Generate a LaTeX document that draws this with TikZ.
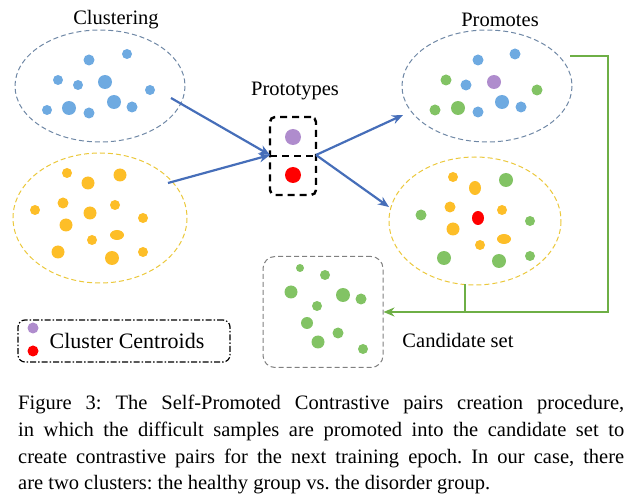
\documentclass[tikz,border=0pt]{standalone}
\usepackage{fontspec}
\setmainfont{Liberation Serif}
\usetikzlibrary{arrows.meta}
\definecolor{cb}{RGB}{110,170,225}
\definecolor{cy}{RGB}{253,190,40}
\definecolor{cg}{RGB}{130,195,100}
\definecolor{cp}{RGB}{175,140,205}
\definecolor{ar}{RGB}{70,110,185}
\definecolor{gl}{RGB}{110,175,70}
\definecolor{eb}{RGB}{110,135,165}
\definecolor{ey}{RGB}{235,200,60}
\begin{document}
\frenchspacing
\begin{tikzpicture}[x=1pt,y=-1pt,
  lbl/.style={font=\fontsize{20.5}{22}\selectfont},
  bd/.style={fill=cb},yd/.style={fill=cy},gd/.style={fill=cg},
  ed/.style={line width=1pt,dash pattern=on 5pt off 3pt},
  arr/.style={draw=ar,line width=2.2pt,-{Stealth[length=11pt,width=9pt]}},
  garr/.style={draw=gl,line width=2.2pt}]
\useasboundingbox (0,0) rectangle (641,500);
% ellipses
\draw[eb,ed] (100,86) ellipse [x radius=85,y radius=56];
\draw[ey,ed] (100,218) ellipse [x radius=87,y radius=65];
\draw[eb,ed] (487,86) ellipse [x radius=85,y radius=56];
\draw[ey,ed] (475,221) ellipse [x radius=86,y radius=64];
\coordinate (a1) at (171,98); \coordinate (a2) at (168,183);
\coordinate (pl) at (270,155); \coordinate (pr) at (316,155);
\coordinate (b1) at (403,115); \coordinate (b2) at (389,207);
% blue dots left
\foreach \x/\y/\r in {89/60/5.5,127/54/5,58/80/5,78/85/5,105/82/7,150/90/5,47/110/5,69/108/7,89/113/5.5,114/102/7,132/107/5.5}
  \fill[bd] (\x,\y) circle (\r);
\foreach \x/\y/\r in {67/173/5,88/183/6.5,120/175/6.5,63/203/5.5,35/210/5,90/213/6.5,115/205/5,66/225/6.5,143/218/5,92/240/5,58/252/6.5,112/258/7,143/252/5}
  \fill[yd] (\x,\y) circle (\r);
\fill[yd] (117,235) ellipse [x radius=7,y radius=5];
% right top
\foreach \x/\y/\r in {478/60/5.5,515/54/5.5,466/85/5.5,478/112/5.5,502/102/7,521/107/5.5}
  \fill[bd] (\x,\y) circle (\r);
\fill[cp] (494,82) circle (7);
\foreach \x/\y/\r in {446/80/5.5,537/90/5.5,435/110/5.5,458/108/7}
  \fill[gd] (\x,\y) circle (\r);
% right bottom
\foreach \x/\y/\r in {453/177/5,450/207/5.5,502/210/5,453/229/6.5,480/245/5}
  \fill[yd] (\x,\y) circle (\r);
\fill[yd] (475,188) ellipse [x radius=6,y radius=7];
\fill[yd] (504,239) ellipse [x radius=7,y radius=5];
\fill[red] (478,218) ellipse [x radius=6,y radius=7];
\foreach \x/\y/\r in {506/180/7,421/215/5.5,530/221/5,444/258/7,499/261/7,530/256/5}
  \fill[gd] (\x,\y) circle (\r);
% prototypes
\node[draw,line width=2.4pt,dash pattern=on 7pt off 5pt,rounded corners=5pt,minimum width=46pt,minimum height=78pt,inner sep=0] (proto) at (293,156) {};
\draw[line width=2.4pt,dash pattern=on 7pt off 5pt] (270,156) -- (316,156);
\fill[cp] (293,137) circle (8);
\fill[red] (293,175) circle (8);
\draw[arr] (a1) -- (pl);
\draw[arr] (a2) -- (pl);
\draw[arr] (pr) -- (b1);
\draw[arr] (pr) -- (b2);
% candidate set
\node[draw=gray,ed,rounded corners=12pt,minimum width=120pt,minimum height=111pt,inner sep=0] (cand) at (323,312) {};
\foreach \x/\y/\r in {291/292/6.5,317/306/5,307/323/6,318/342/6.5,325/275/5,343/295/7,361/299/5.5,338/333/5.5,363/349/5,300/268/4}
  \fill[gd] (\x,\y) circle (\r);
\coordinate (g1) at (570,56); \coordinate (g2) at (608,56); \coordinate (g3) at (608,312);
\coordinate (g4) at (465,284); \coordinate (g5) at (465,312);
\draw[garr] (g1) -- (g2) -- (g3) -- (g5);
\draw[garr] (g4) -- (g5);
\draw[gl,line width=2.2pt,-{Stealth[length=11pt,width=9pt]}] (g5) -- (cand.east);
% legend
\node[draw,line width=1.2pt,dash pattern=on 6pt off 2pt on 1.5pt off 2pt,rounded corners=7pt,minimum width=212pt,minimum height=42pt,inner sep=0] (leg) at (124,341) {};
\fill[cp] (33,328) circle (5.5);
\fill[red] (33,351) circle (5.5);
% labels
\node[lbl] (tc) at (116,20) {Clustering};
\node[lbl] (tp) at (295,91) {Prototypes};
\node[lbl] (tpr) at (500,20) {Promotes};
\node[lbl] (tcs) at (458,340) {Candidate set};
\node[lbl,font=\fontsize{22}{24}\selectfont] (tl) at (127,341) {Cluster Centroids};
\node[anchor=north west,inner sep=0,text width=606pt,align=justify,font=\fontsize{20.5}{26.7}\selectfont] (cap) at (18,395)
{Figure 3: The Self-Promoted Contrastive pairs creation procedure,\linebreak in which the difficult samples are promoted into the candidate set to\linebreak create contrastive pairs for the next training epoch. In our case, there\linebreak are two clusters: the healthy group vs.\ the disorder group.};
\end{tikzpicture}
\end{document}
